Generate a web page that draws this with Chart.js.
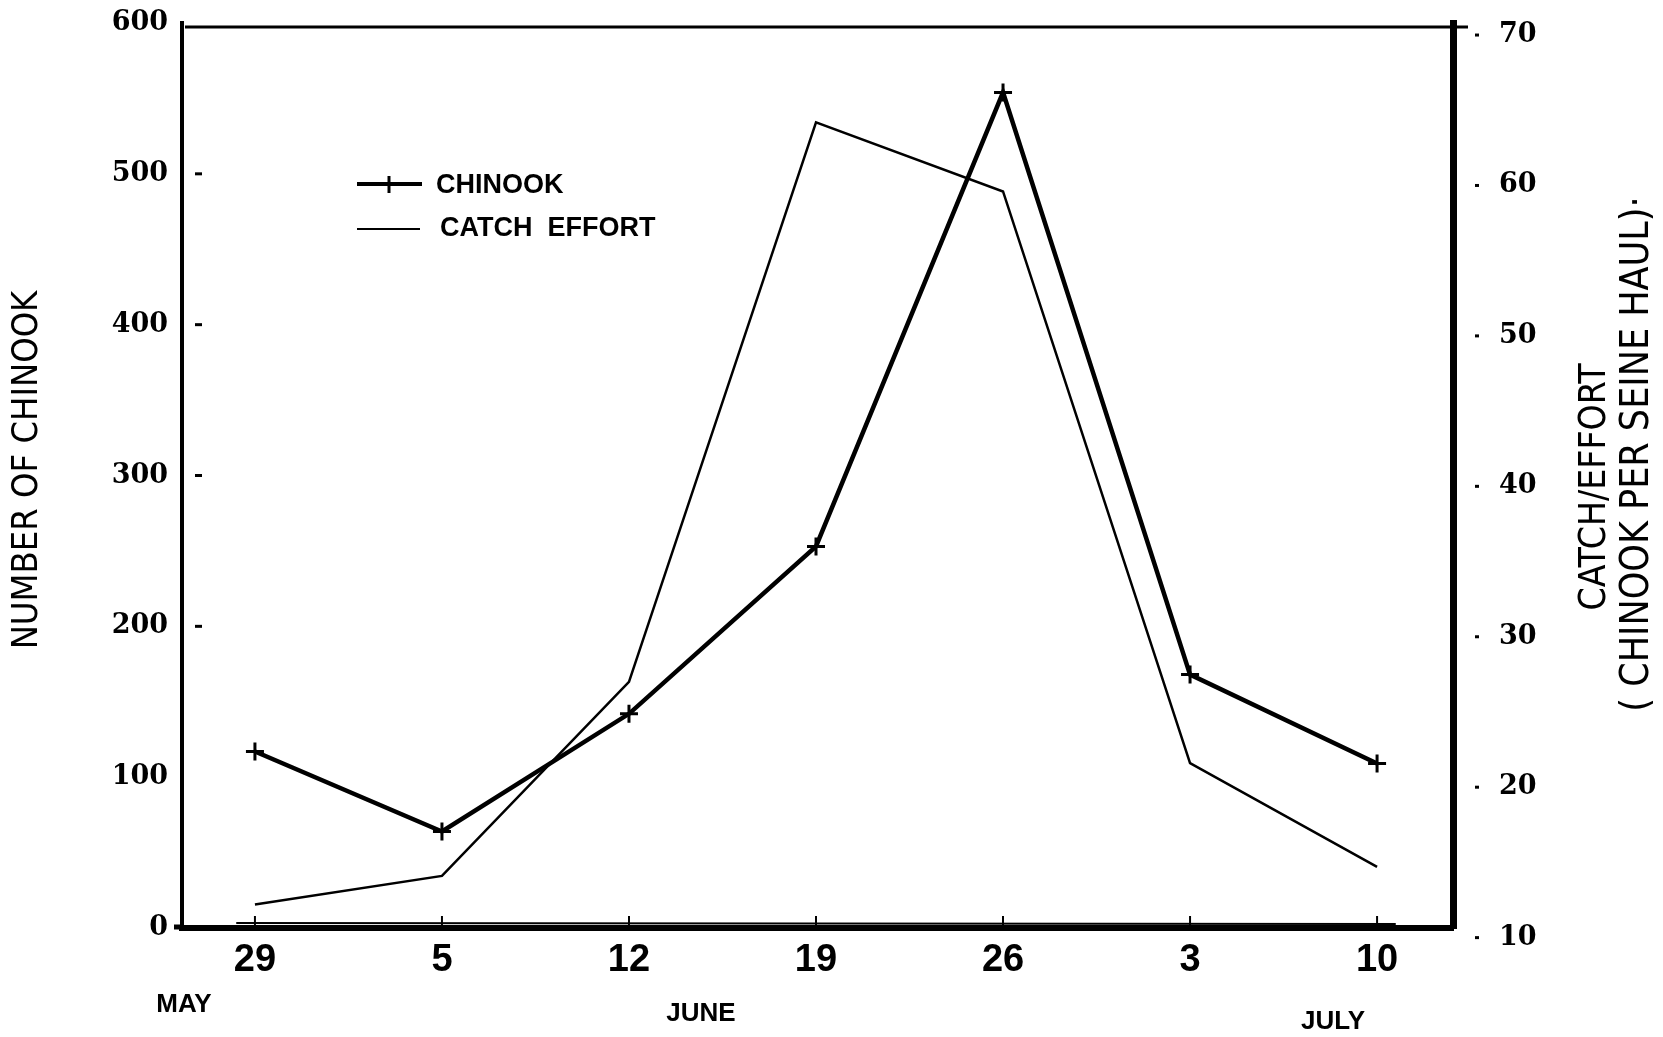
<!DOCTYPE html>
<html>
<head>
<meta charset="utf-8">
<script src="https://cdn.jsdelivr.net/npm/chart.js@4/dist/chart.umd.min.js"></script>
<style>
body { margin:0; background:#fff; }
#wrap { width:1663px; height:1037px; }
</style>
</head>
<body>
<div id="wrap"><canvas id="lineChart" width="1663" height="1037"></canvas></div>
<script>
// week labels (May 29 .. July 10)
var dayLabels = ["29", "5", "12", "19", "26", "3", "10"];
var monthLabels = ["MAY", "JUNE", "JULY"];
// number of chinook (left axis)
var chinook = [117, 64, 142, 253, 554, 168, 109];
// catch/effort, chinook per seine haul (right axis)
var catchEffort = [12.2, 14.1, 27.0, 64.2, 59.6, 21.6, 14.7];
var leftTicks = [0, 100, 200, 300, 400, 500, 600];
var rightTicks = [10, 20, 30, 40, 50, 60, 70];

var tickFont = {family: "'DejaVu Serif'", size: 27, weight: 'bold'};

var chinookPts = chinook.map(function (v, i) { return {x: i, y: v}; });
var catchPts = catchEffort.map(function (v, i) { return {x: i, y: v}; });

// extra marks drawn on top: frame, inner ticks, titles, legend
var decor = {
    id: 'decor',
    afterDraw: function (chart) {
        var ctx = chart.ctx;
        var a = chart.chartArea;
        var xs = chart.scales.x, ys = chart.scales.y, ys2 = chart.scales.y2;
        ctx.save();
        ctx.strokeStyle = '#000';
        ctx.fillStyle = '#000';

        // top line
        ctx.lineWidth = 3;
        ctx.beginPath(); ctx.moveTo(a.left + 3, 27); ctx.lineTo(a.right + 15, 27); ctx.stroke();
        // little stub left of the axis
        ctx.lineWidth = 5;
        ctx.beginPath(); ctx.moveTo(a.left - 8, a.bottom - 1); ctx.lineTo(a.left, a.bottom - 1); ctx.stroke();
        // thin baseline just above the axis
        ctx.lineWidth = 2;
        ctx.beginPath(); ctx.moveTo(xs.getPixelForValue(-0.1), a.bottom - 5); ctx.lineTo(xs.getPixelForValue(6.1), a.bottom - 4); ctx.stroke();

        // x ticks pointing up
        ctx.lineWidth = 2;
        dayLabels.forEach(function (d, i) {
            var px = xs.getPixelForValue(i);
            ctx.beginPath(); ctx.moveTo(px, a.bottom); ctx.lineTo(px, a.bottom - 12); ctx.stroke();
        });
        // left dashes
        ctx.lineWidth = 3;
        [200, 300, 400, 500].forEach(function (v) {
            var py = ys.getPixelForValue(v);
            ctx.beginPath(); ctx.moveTo(a.left + 13, py); ctx.lineTo(a.left + 20, py); ctx.stroke();
        });
        // right dots
        rightTicks.forEach(function (v) {
            var py = ys2.getPixelForValue(v);
            ctx.beginPath(); ctx.moveTo(a.right + 22, py); ctx.lineTo(a.right + 26, py); ctx.stroke();
        });

        // axis titles
        ctx.textAlign = 'center';
        ctx.textBaseline = 'middle';
        ctx.font = "36px 'Liberation Sans Narrow', 'DejaVu Sans Condensed'";
        ctx.save(); ctx.translate(28, 470); ctx.rotate(-Math.PI / 2);
        ctx.fillText("NUMBER OF CHINOOK", 0, 0); ctx.restore();
        ctx.font = "37px 'Liberation Sans Narrow', 'DejaVu Sans Condensed'";
        ctx.save(); ctx.translate(1595, 487); ctx.rotate(-Math.PI / 2);
        ctx.fillText("CATCH/EFFORT", 0, 0); ctx.restore();
        ctx.font = "39px 'Liberation Sans Narrow', 'DejaVu Sans Condensed'";
        ctx.save(); ctx.translate(1638, 454); ctx.rotate(-Math.PI / 2);
        ctx.fillText("( CHINOOK PER SEINE HAUL)\u00b7", 0, 0); ctx.restore();

        // months
        ctx.font = "bold 26px 'Liberation Sans'";
        ctx.fillText(monthLabels[0], 184, 1005);
        ctx.fillText(monthLabels[1], 701, 1014);
        ctx.fillText(monthLabels[2], 1333, 1022);

        // legend
        ctx.lineWidth = 4;
        ctx.beginPath(); ctx.moveTo(357, 184); ctx.lineTo(422, 184); ctx.stroke();
        ctx.lineWidth = 3;
        ctx.beginPath(); ctx.moveTo(389, 176); ctx.lineTo(389, 193); ctx.stroke();
        ctx.lineWidth = 2;
        ctx.beginPath(); ctx.moveTo(357, 229); ctx.lineTo(420, 229); ctx.stroke();
        ctx.textAlign = 'left';
        ctx.font = "bold 27px 'Liberation Sans'";
        ctx.fillText("CHINOOK", 436, 186);
        ctx.fillText("CATCH  EFFORT", 440, 229);
        ctx.restore();
    }
};

var lineData = {
    datasets: [
        {
            label: "CHINOOK",
            data: chinookPts,
            yAxisID: 'y',
            borderColor: '#000',
            backgroundColor: '#000',
            borderWidth: 4.5,
            pointStyle: 'cross',
            pointRadius: 9,
            pointBorderWidth: 3,
            tension: 0
        },
        {
            label: "CATCH EFFORT",
            data: catchPts,
            yAxisID: 'y2',
            borderColor: '#000',
            borderWidth: 2.5,
            pointRadius: 0,
            tension: 0
        }
    ]
};

// keep the tick labels from pushing the plot area around
function noPad(s) {
    s.paddingTop = 0; s.paddingBottom = 0; s.paddingLeft = 0; s.paddingRight = 0;
}

var lineOptions = {
    responsive: false,
    animation: false,
    layout: {padding: {top: 23, left: 0, right: 0, bottom: 0}},
    plugins: {legend: {display: false}, tooltip: {enabled: false}},
    scales: {
        x: {
            type: 'linear',
            min: -0.39,
            max: 6.406,
            grid: {display: false, drawTicks: false},
            border: {display: true, color: '#000', width: 6},
            afterBuildTicks: function (s) { s.ticks = dayLabels.map(function (d, i) { return {value: i}; }); },
            afterFit: function (s) { s.height = 109; noPad(s); },
            ticks: {
                padding: 10,
                color: '#000',
                font: {family: "'Liberation Sans'", size: 38, weight: 'bold'},
                callback: function (v, i) { return dayLabels[i]; }
            }
        },
        y: {
            position: 'left',
            min: 0,
            max: 600,
            grid: {display: false, drawTicks: false},
            border: {display: true, color: '#000', width: 4},
            afterBuildTicks: function (s) { s.ticks = leftTicks.map(function (v) { return {value: v}; }); },
            afterFit: function (s) { s.width = 182; noPad(s); },
            ticks: {padding: 14, color: '#000', font: tickFont}
        },
        y2: {
            position: 'right',
            min: 10.64,
            max: 70.8,
            grid: {display: false, drawTicks: false},
            border: {display: true, color: '#000', width: 7},
            afterBuildTicks: function (s) { s.ticks = rightTicks.map(function (v) { return {value: v}; }); },
            afterFit: function (s) { s.width = 210; noPad(s); },
            ticks: {padding: 46, color: '#000', font: tickFont}
        }
    }
};

var ctx1 = document.getElementById("lineChart").getContext("2d");
new Chart(ctx1, {type: 'line', data: lineData, options: lineOptions, plugins: [decor]});
</script>
</body>
</html>
